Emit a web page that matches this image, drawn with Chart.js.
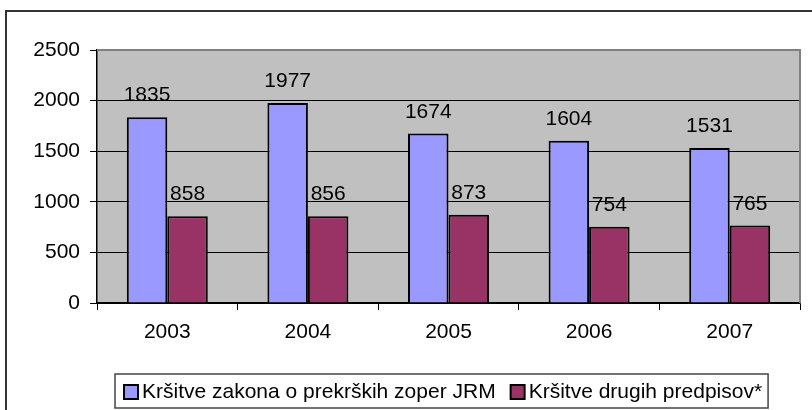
<!DOCTYPE html>
<html>
<head>
<meta charset="utf-8">
<script src="https://cdn.jsdelivr.net/npm/chart.js@4.4.1/dist/chart.umd.min.js"></script>
<style>
  html, body { margin: 0; padding: 0; background: #fff; overflow: hidden; }
  #wrap { width: 812px; height: 410px; }
</style>
</head>
<body>
<div id="wrap"><canvas id="chart" width="812" height="410"></canvas></div>
<script>
// Data
const years = ['2003', '2004', '2005', '2006', '2007'];
const zakonJRM = [1835, 1977, 1674, 1604, 1531];
const drugiPredpisi = [858, 856, 873, 754, 765];
const seriesNames = ['Kršitve zakona o prekrških zoper JRM', 'Kršitve drugih predpisov*'];
const yTicks = [0, 500, 1000, 1500, 2000, 2500];

const FONT = "'Liberation Sans', Arial, sans-serif";
const FONT_SIZE = 21;

// Grey plot background, outer frame, right/top border of plot area
const framePlugin = {
    id: 'frame',
    beforeDraw(chart) {
        const ctx = chart.ctx;
        const a = chart.chartArea;
        ctx.save();
        ctx.fillStyle = '#fff';
        ctx.fillRect(0, 0, chart.width, chart.height);
        ctx.fillStyle = '#c0c0c0';
        ctx.fillRect(a.left, a.top, a.right - a.left, a.bottom - a.top);
        // outer chart frame (runs off the right and bottom edge)
        ctx.strokeStyle = '#333';
        ctx.lineWidth = 2;
        ctx.strokeRect(6, 11, chart.width + 20, chart.height + 20);
        ctx.restore();
    },
    afterDatasetsDraw(chart) {
        const ctx = chart.ctx;
        const a = chart.chartArea;
        ctx.save();
        ctx.strokeStyle = '#808080';
        ctx.lineWidth = 2;
        ctx.beginPath();
        ctx.moveTo(a.left, a.top);
        ctx.lineTo(a.right, a.top);
        ctx.lineTo(a.right, a.bottom);
        ctx.stroke();
        ctx.restore();
    }
};

// Value labels above bars
const valueLabels = {
    id: 'valueLabels',
    afterDatasetsDraw(chart) {
        const ctx = chart.ctx;
        ctx.save();
        ctx.font = FONT_SIZE + 'px ' + FONT;
        ctx.fillStyle = '#000';
        ctx.textAlign = 'center';
        ctx.textBaseline = 'alphabetic';
        chart.data.datasets.forEach((ds, i) => {
            const meta = chart.getDatasetMeta(i);
            meta.data.forEach((bar, j) => {
                ctx.fillText(String(ds.data[j]), bar.x, bar.y - 16);
            });
        });
        ctx.restore();
    }
};

// Boxed legend like the original
const boxLegend = {
    id: 'boxLegend',
    afterDraw(chart) {
        const ctx = chart.ctx;
        ctx.save();
        ctx.font = FONT_SIZE + 'px ' + FONT;
        ctx.textBaseline = 'middle';
        ctx.textAlign = 'left';
        const boxLeft = 115, boxTop = 374, boxH = 34;
        const cy = boxTop + boxH / 2 + 1;
        let x = 124;
        chart.data.datasets.forEach((ds, i) => {
            ctx.fillStyle = ds.backgroundColor;
            ctx.fillRect(x, cy - 7, 14, 14);
            ctx.strokeStyle = '#000';
            ctx.lineWidth = 2;
            ctx.strokeRect(x, cy - 7, 14, 14);
            x += 18;
            ctx.fillStyle = '#000';
            ctx.fillText(ds.label, x, cy);
            x += ctx.measureText(ds.label).width + 15;
        });
        const boxRight = x - 15 + 6;
        ctx.strokeStyle = '#444';
        ctx.lineWidth = 1.5;
        ctx.strokeRect(boxLeft, boxTop, boxRight - boxLeft, boxH);
        ctx.restore();
    }
};

function initChart() {
    const ctx = document.getElementById('chart').getContext('2d');
    new Chart(ctx, {
        type: 'bar',
        data: {
            labels: years,
            datasets: [{
                label: seriesNames[0],
                data: zakonJRM,
                backgroundColor: '#9999ff',
                borderColor: '#000',
                borderWidth: 2
            }, {
                label: seriesNames[1],
                data: drugiPredpisi,
                backgroundColor: '#993366',
                borderColor: '#000',
                borderWidth: 2
            }]
        },
        options: {
            responsive: false,
            animation: false,
            events: [],
            layout: { padding: { top: 50, right: 12, left: 0, bottom: 0 } },
            datasets: {
                bar: { categoryPercentage: 0.576, barPercentage: 1 }
            },
            plugins: {
                legend: { display: false },
                tooltip: { enabled: false }
            },
            scales: {
                x: {
                    afterFit(scale) { scale.height = 107; },
                    grid: {
                        offset: true,
                        drawOnChartArea: false,
                        tickLength: 7,
                        tickColor: '#000'
                    },
                    border: { color: '#000', width: 1.5 },
                    ticks: {
                        color: '#000',
                        padding: 10,
                        font: { family: FONT, size: FONT_SIZE }
                    }
                },
                y: {
                    min: 0,
                    max: 2500,
                    afterFit(scale) { scale.width = 97; },
                    afterBuildTicks(scale) {
                        scale.ticks = yTicks.map(v => ({ value: v }));
                    },
                    grid: {
                        color: c => (c.tick && c.tick.value === 2500 ? '#808080' : '#000'),
                        lineWidth: 1,
                        tickLength: 7,
                        tickColor: '#000'
                    },
                    border: { color: '#000', width: 1.5 },
                    ticks: {
                        color: '#000',
                        padding: 10,
                        font: { family: FONT, size: FONT_SIZE },
                        callback: v => String(v)
                    }
                }
            }
        },
        plugins: [framePlugin, valueLabels, boxLegend]
    });
}

document.addEventListener('DOMContentLoaded', function () {
    initChart();
});
</script>
</body>
</html>
